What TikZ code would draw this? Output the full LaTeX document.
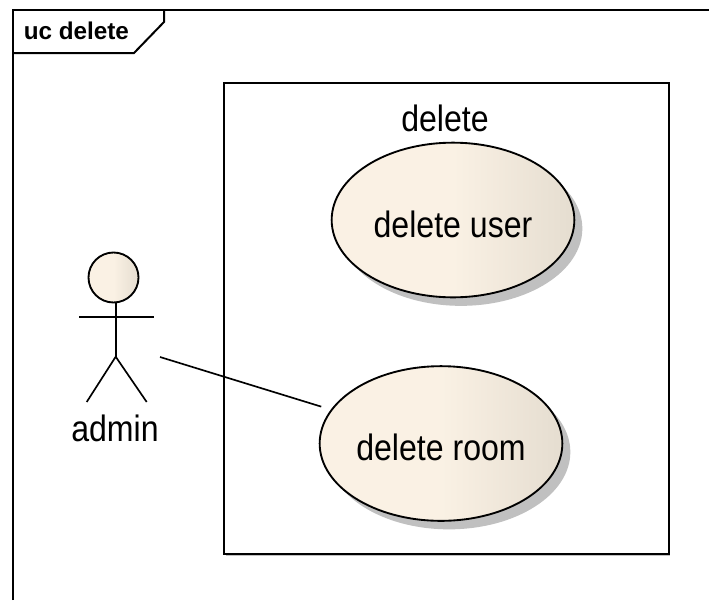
\documentclass[tikz,border=0pt]{standalone}
\usepackage{fontspec}
\setmainfont{Liberation Sans}
\newfontfamily\narrowsans[FakeStretch=0.875]{Liberation Sans}
\usetikzlibrary{shapes.geometric,shadings}
\definecolor{ucL}{RGB}{250,241,228}
\definecolor{ucR}{RGB}{229,221,208}
\definecolor{ucS}{RGB}{192,192,192}
\pgfdeclarehorizontalshading{ucfill}{100bp}{color(0bp)=(ucL);color(50bp)=(ucL);color(75bp)=(ucR);color(100bp)=(ucR)}
\tikzset{
  px/.style={x=0.75pt,y=-0.75pt},
  frameline/.style={draw=black,line width=1.5pt},
  thinline/.style={draw=black,line width=1.25pt},
  bigtext/.style={font=\narrowsans\fontsize{27.5}{30}\selectfont},
  usecase/.style={ellipse,draw=black,line width=1.4pt,shading=ucfill,inner sep=0pt,minimum width=182pt,minimum height=116pt,bigtext,text height=26pt,text depth=0pt},
  ucshadow/.style={ellipse,fill=ucS,draw=none,inner sep=0pt,minimum width=182pt,minimum height=116pt},
  lbl/.style={bigtext,inner sep=0pt},
}
\begin{document}
\begin{tikzpicture}[px]
\useasboundingbox (0,0) rectangle (709,600);
\fill[white] (0,0) rectangle (709,600);
% frame
\draw[frameline] (12.5,600) -- (12.5,9.5) -- (709,9.5);
\draw[frameline] (12.5,53) -- (134,53) -- (164,22) -- (164,9.5);
\node[font=\bfseries\fontsize{18.2}{20}\selectfont,inner sep=0pt,anchor=base west] (title) at (23.5,39) {uc delete};
% boundary
\fill[ucS] (225.5,85) rectangle (670,555.5);
\draw[frameline,fill=white] (223.5,83) rectangle (668.5,553.5);
\node[lbl] (sys) at (445,118) {delete};
% use cases
\node[ucshadow] at (461,228.5) {};
\node[usecase] (user) at (453,220) {delete user};
\node[ucshadow] at (449,452) {};
\node[usecase] (room) at (441,443.5) {delete room};
% actor
\node[circle,draw=black,line width=1.4pt,shading=ucfill,minimum width=37.5pt,inner sep=0pt] (head) at (113.5,277.5) {};
\coordinate (neck) at (115.7,303);
\coordinate (hip) at (115.7,356.7);
\coordinate (armL) at (79.3,317);
\coordinate (armR) at (154,317);
\coordinate (legL) at (86.7,402);
\coordinate (legR) at (146.7,402);
\coordinate (port) at (160,357);
\draw[thinline] (neck) -- (hip);
\draw[thinline] (armL) -- (armR);
\draw[thinline] (legL) -- (hip) -- (legR);
\node[lbl] (admin) at (115,428) {admin};
% connector
\draw[thinline,shorten >=7.5pt] (port) -- (room);
\end{tikzpicture}
\end{document}
